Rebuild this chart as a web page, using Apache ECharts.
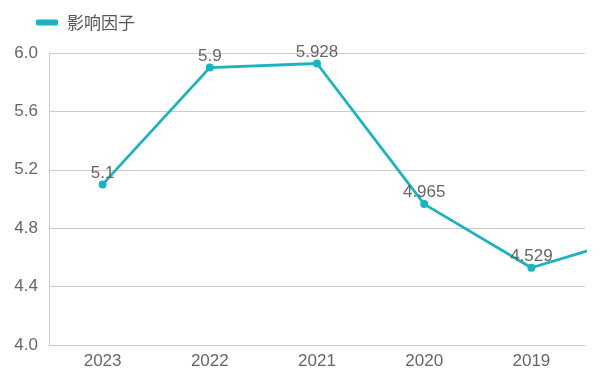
<!DOCTYPE html>
<html><head><meta charset="utf-8">
<script src="https://cdn.jsdelivr.net/npm/echarts@6/dist/echarts.min.js"></script>
<style>html,body{margin:0;padding:0;background:#fff}#c{width:605px;height:370px}</style>
</head><body><div id="c"></div>
<script>
const categories = ['2023','2022','2021','2020','2019','2018'];
const values = [5.1, 5.9, 5.928, 4.965, 4.529, 4.75];
const seriesName = '影响因子';
const yTicks = {min: 4.0, max: 6.0, interval: 0.4};

const chart = echarts.init(document.getElementById('c'));
chart.setOption({
  animation: false,
  color: ['#1bb3bd'],
  legend: {
    left: 31, top: 9, itemGap: 8,
    icon: 'roundRect', itemWidth: 22, itemHeight: 6,
    textStyle: {fontSize: 17, color: '#555', fontFamily: 'Noto Sans CJK SC', padding: [0, 0, 0, 4]},
    data: [seriesName]
  },
  grid: {left: 49, right: 20, top: 53, bottom: 25},
  xAxis: {
    type: 'category', data: categories, max: 4,
    axisLine: {lineStyle: {color: '#ccc'}},
    axisTick: {alignWithLabel: true, lineStyle: {color: '#ccc'}},
    axisLabel: {fontSize: 17, color: '#666', margin: 8, fontFamily: 'Liberation Sans'}
  },
  yAxis: {
    type: 'value', min: yTicks.min, max: yTicks.max, interval: yTicks.interval,
    axisLine: {show: true, lineStyle: {color: '#ccc'}},
    axisTick: {show: false},
    splitLine: {lineStyle: {color: '#ccc'}},
    axisLabel: {fontSize: 17, color: '#666', margin: 11, fontFamily: 'Liberation Sans',
      formatter: v => v.toFixed(1)}
  },
  series: [{
    name: seriesName, type: 'line', data: values,
    symbol: 'circle', symbolSize: 8, clip: true,
    lineStyle: {width: 2.8},
    label: {show: true, position: 'top', distance: -1, fontSize: 17, color: '#666', fontFamily: 'Liberation Sans'}
  }]
});
</script></body></html>
